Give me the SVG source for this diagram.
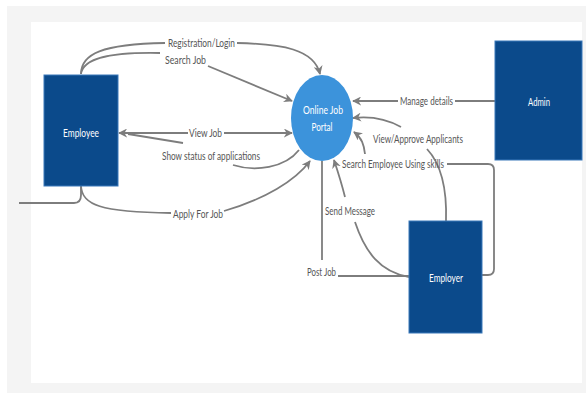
<svg xmlns="http://www.w3.org/2000/svg" width="586" height="394" viewBox="0 0 586 394">
<defs>
<style>
.bg{fill:#f4f4f4}
.panel{fill:#ffffff}
.box{fill:#0b4a8b;stroke:#3a78ba;stroke-width:1}
.portal{fill:#3c93db}
.ntext{font-family:Lato,"Liberation Sans",sans-serif;font-size:11px;fill:#ffffff;text-anchor:middle}
.lbl{font-family:Lato,"Liberation Sans",sans-serif;font-size:11px;fill:#555555}
.ln{fill:none;stroke:#7d7d7d;stroke-width:1.8}
.arr{marker-end:url(#ah)}
</style>
<marker id="ah" viewBox="0 0 10 10" refX="9" refY="5" markerWidth="9" markerHeight="9" markerUnits="userSpaceOnUse" orient="auto-start-reverse">
<path d="M0,0 L10,5 L0,10 L3,5 z" fill="#7d7d7d"/>
</marker>
</defs>
<rect x="0" y="0" width="586" height="394" fill="#ffffff"/>
<rect class="bg" x="7" y="6" width="579" height="387"/>
<rect class="panel" x="31" y="22" width="551" height="361"/>

<g id="connectors">
<path class="ln" d="M19,203 L74,203 Q81,203 81,195 L81,186"/>
<path class="ln" d="M81,74 C81,54 102,44 165,43"/>
<path class="ln arr" d="M237,43 C282,44 314,49 320,74"/>
<path class="ln" d="M81,74 C83,58 110,52 160,53"/>
<path class="ln arr" d="M208,66 L292,101"/>
<path class="ln" d="M188,133 L119,133" marker-end="url(#ah)"/>
<path class="ln arr" d="M224,133 L292,133"/>
<path class="ln" d="M183,143 L128,134"/>
<path class="ln" d="M233,165 C255,172 285,168 299,150"/>
<path class="ln" d="M81,186 C82,205 100,212 171,213"/>
<path class="ln arr" d="M224,211 C265,199 295,181 310,161"/>
<path class="ln" d="M495,101 L455,101"/>
<path class="ln arr" d="M398,101 L353,101"/>
<path class="ln" d="M446,221 C447,190 442,165 427,149"/>
<path class="ln arr" d="M401,127 C385,118 370,116 353,118"/>
<path class="ln" d="M482,275 L488,275 Q494,275 494,269 L494,170 Q494,164 488,164 L447,164"/>
<path class="ln arr" d="M365,154 C364,145 362,138 354,132"/>
<path class="ln" d="M409,277 C380,272 365,252 355,222"/>
<path class="ln arr" d="M345,197 C342,185 338,172 334,160"/>
<path class="ln" d="M409,276 L338,276"/>
<path class="ln" d="M322,260 L322,161"/>
</g>

<g id="labels">
<text class="lbl" x="168" y="47" textLength="67" lengthAdjust="spacingAndGlyphs">Registration/Login</text>
<text class="lbl" x="165" y="64" textLength="41" lengthAdjust="spacingAndGlyphs">Search  Job</text>
<text class="lbl" x="189" y="137" textLength="33" lengthAdjust="spacingAndGlyphs">View Job</text>
<text class="lbl" x="162" y="160" textLength="98" lengthAdjust="spacingAndGlyphs">Show status of applications</text>
<text class="lbl" x="173" y="218" textLength="50" lengthAdjust="spacingAndGlyphs">Apply For Job</text>
<text class="lbl" x="400" y="105" textLength="53" lengthAdjust="spacingAndGlyphs">Manage details</text>
<text class="lbl" x="373" y="143" textLength="90" lengthAdjust="spacingAndGlyphs">View/Approve Applicants</text>
<text class="lbl" x="342" y="168" textLength="102" lengthAdjust="spacingAndGlyphs">Search Employee Using skills</text>
<text class="lbl" x="325" y="215" textLength="50" lengthAdjust="spacingAndGlyphs">Send Message</text>
<text class="lbl" x="307" y="276" textLength="29" lengthAdjust="spacingAndGlyphs">Post Job</text>
</g>

<g id="employee">
<rect class="box" x="44" y="75" width="74" height="111"/>
<text class="ntext" x="81" y="137" textLength="36" lengthAdjust="spacingAndGlyphs">Employee</text>
</g>
<g id="admin">
<rect class="box" x="495" y="41" width="87" height="119"/>
<text class="ntext" x="539" y="106" textLength="22" lengthAdjust="spacingAndGlyphs">Admin</text>
</g>
<g id="employer">
<rect class="box" x="409" y="221" width="73" height="112"/>
<text class="ntext" x="446" y="282" textLength="34" lengthAdjust="spacingAndGlyphs">Employer</text>
</g>
<g id="portal">
<ellipse class="portal" cx="322" cy="118" rx="31" ry="43"/>
<text class="ntext" x="323" y="114" textLength="40" lengthAdjust="spacingAndGlyphs">Online Job</text>
<text class="ntext" x="322" y="131" textLength="21" lengthAdjust="spacingAndGlyphs">Portal</text>
</g>
</svg>
